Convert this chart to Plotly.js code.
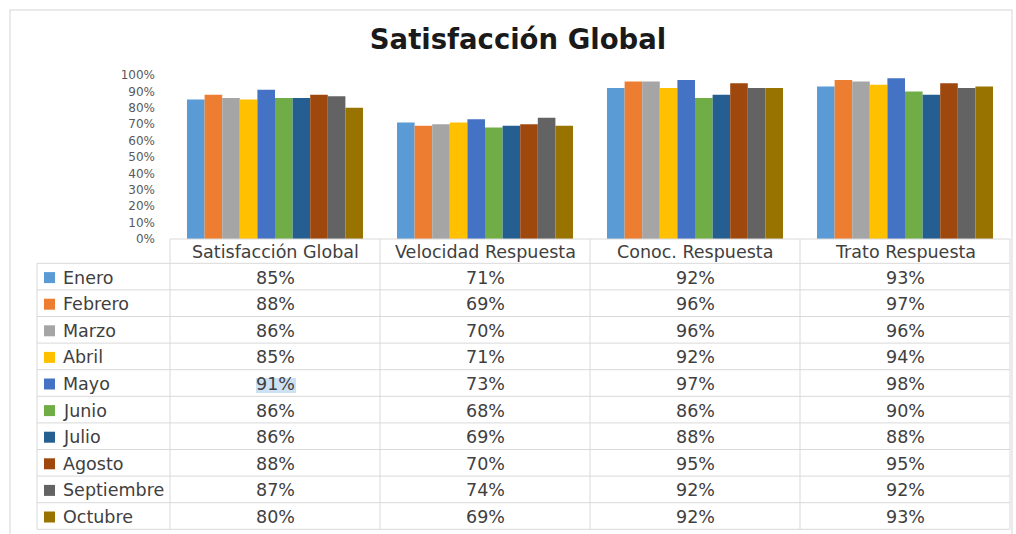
<!DOCTYPE html>
<html>
<head>
<meta charset="utf-8">
<script src="https://cdn.plot.ly/plotly-3.0.1.min.js"></script>
<style>
  html, body { margin: 0; padding: 0; background: #fff; }
  #plot { width: 1016px; height: 534px; }
</style>
</head>
<body>
<div id="plot"></div>
<script>
// categories and months
const categorias = ["Satisfacción Global", "Velocidad Respuesta", "Conoc. Respuesta", "Trato Respuesta"];
const meses = ["Enero", "Febrero", "Marzo", "Abril", "Mayo", "Junio", "Julio", "Agosto", "Septiembre", "Octubre"];
const colores = ["#5B9BD5", "#ED7D31", "#A5A5A5", "#FFC000", "#4472C4", "#70AD47", "#255E91", "#9E480E", "#636363", "#997300"];

// values (%) per category, one entry per month
const satisfaccionGlobal = [85, 88, 86, 85, 91, 86, 86, 88, 87, 80];
const velocidadRespuesta = [71, 69, 70, 71, 73, 68, 69, 70, 74, 69];
const conocRespuesta     = [92, 96, 96, 92, 97, 86, 88, 95, 92, 92];
const tratoRespuesta     = [93, 97, 96, 94, 98, 90, 88, 95, 92, 93];

const series = [satisfaccionGlobal, velocidadRespuesta, conocRespuesta, tratoRespuesta];

const W = 1016, H = 534;
const px = v => v / W;
const py = v => (H - v) / H;
const fuente = "DejaVu Sans";
const gris = "#d9d9d9";
const textoTabla = "#404040";

// one bar trace per month
let traces = meses.map((mes, i) => ({
  type: "bar",
  name: mes,
  x: categorias,
  y: series.map(s => s[i]),
  marker: { color: colores[i] },
  showlegend: false,
  hoverinfo: "x+y+name"
}));

// data table geometry (pixels): column edges and row edges
const colX = [37, 170, 380, 590, 800, 1010];
const headTop = 239, rowTop = 263.3, rowH = 26.6;
const rowY = k => rowTop + k * rowH;
const tableBottom = rowY(meses.length);

let shapes = [];
let annotations = [];

function linea(x0, y0, x1, y1) {
  shapes.push({
    type: "line", xref: "paper", yref: "paper",
    x0: px(x0), y0: py(y0), x1: px(x1), y1: py(y1),
    line: { color: gris, width: 1 }
  });
}
function texto(t, x, y, xanchor) {
  annotations.push({
    text: t, xref: "paper", yref: "paper",
    x: px(x), y: py(y), xanchor: xanchor, yanchor: "middle",
    showarrow: false,
    font: { family: fuente, size: 17.5, color: textoTabla }
  });
}

// grid
linea(colX[1], headTop, colX[5], headTop);
for (let k = 0; k <= meses.length; k++) linea(colX[0], rowY(k), colX[5], rowY(k));
linea(colX[0], rowTop, colX[0], tableBottom);
for (let c = 1; c < colX.length; c++) linea(colX[c], headTop, colX[c], tableBottom);

// header
categorias.forEach((cat, c) => texto(cat, (colX[c + 1] + colX[c + 2]) / 2, (headTop + rowTop) / 2 + 1, "center"));

// legend column + values
meses.forEach((mes, k) => {
  let yc = rowY(k) + rowH / 2 + 1;
  shapes.push({
    type: "rect", xref: "paper", yref: "paper",
    x0: px(44), x1: px(55), y0: py(yc + 5.5), y1: py(yc - 5.5),
    fillcolor: colores[k], line: { width: 0 }
  });
  texto(mes, 61, yc, "left");
  series.forEach((s, c) => texto(s[k] + "%", (colX[c + 1] + colX[c + 2]) / 2, yc, "center"));
});

// selection highlight seen on the Mayo / Satisfacción Global value in the source
shapes.push({
  type: "rect", xref: "paper", yref: "paper", layer: "below",
  x0: px(256), x1: px(296), y0: py(393), y1: py(378),
  fillcolor: "rgba(91,155,213,0.3)", line: { width: 0 }
});

// outer chart border
shapes.push({
  type: "rect", xref: "paper", yref: "paper",
  x0: px(10), x1: px(1012), y0: -0.05, y1: py(10),
  line: { color: "#e3e3e3", width: 1.5 }
});

let layout = {
  width: W,
  height: H,
  margin: { l: 0, r: 0, t: 0, b: 0 },
  paper_bgcolor: "white",
  plot_bgcolor: "white",
  barmode: "group",
  bargap: 0.162,
  bargroupgap: 0,
  title: {
    text: "<b>Satisfacción Global</b>",
    x: px(518),
    xanchor: "center",
    y: py(39),
    yanchor: "middle",
    font: { family: fuente, size: 27.5, color: "#1a1a1a" }
  },
  xaxis: {
    domain: [px(170), px(1010)],
    showticklabels: false,
    showline: false,
    zeroline: false,
    showgrid: false,
    ticks: ""
  },
  yaxis: {
    domain: [py(239), py(75)],
    range: [0, 100],
    dtick: 10,
    ticksuffix: "%",
    showgrid: false,
    zeroline: false,
    showline: false,
    ticks: "",
    ticklabelstandoff: 14,
    tickfont: { family: fuente, size: 12, color: "#595959" }
  },
  shapes: shapes,
  annotations: annotations
};

Plotly.newPlot("plot", traces, layout, { displayModeBar: false, staticPlot: true });
</script>
</body>
</html>
